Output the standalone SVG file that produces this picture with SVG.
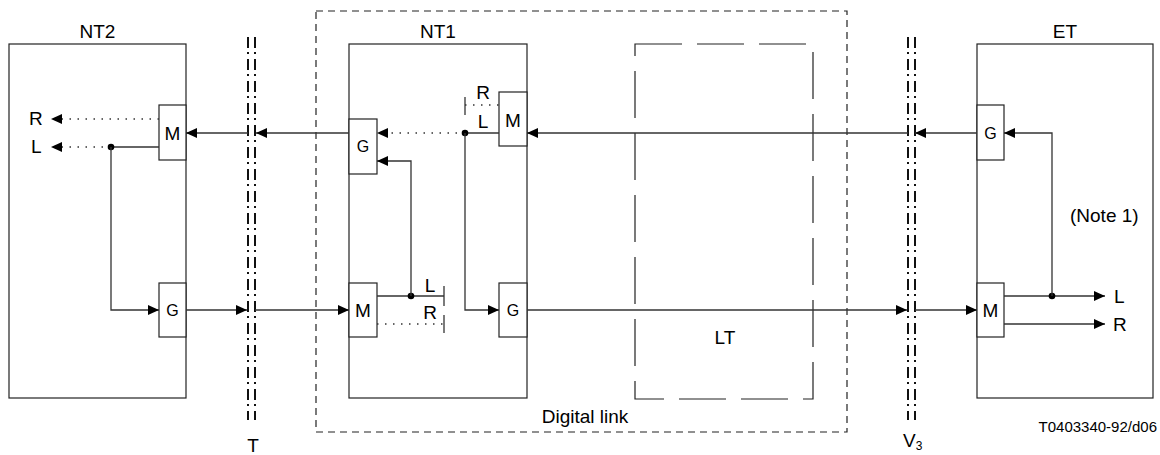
<svg xmlns="http://www.w3.org/2000/svg" width="1160" height="455" viewBox="0 0 1160 455">
<style>
.box{fill:none;stroke:#222;stroke-width:1.2}
.sub{fill:#fff;stroke:#222;stroke-width:1.2}
.ln{fill:none;stroke:#333;stroke-width:1.3}
.dot{fill:none;stroke:#333;stroke-width:1.3;stroke-dasharray:1.5 6.5}
.ifc{fill:none;stroke:#111;stroke-width:2;stroke-dasharray:11 4 2 5}
.dash{fill:none;stroke:#222;stroke-width:1.2;stroke-dasharray:7 5}
.ldash{fill:none;stroke:#222;stroke-width:1.2;stroke-dasharray:47 15}
.t{font-family:"Liberation Sans",Arial,sans-serif;font-size:19px;fill:#000}
.c{text-anchor:middle}
.s{font-size:15px}
.g{font-size:16px}
</style>
<defs>
<marker id="ah" markerWidth="11" markerHeight="10" refX="11" refY="5" orient="auto" markerUnits="userSpaceOnUse"><path d="M0,0 L11,5 L0,10 z" fill="#000"/></marker>
</defs>

<g id="digital-link">
<rect class="dash" x="316" y="11" width="531" height="421"/>
<text class="t c" x="585" y="423">Digital link</text>
</g>

<g id="LT">
<path class="ldash" d="M635,44 H813 V399 H635 Z"/>
<text class="t c" x="725" y="344">LT</text>
</g>

<g id="NT2">
<rect class="box" x="9" y="44" width="177" height="354"/>
<text class="t c" x="97.5" y="38">NT2</text>
<rect class="sub" x="159" y="105" width="27" height="55"/>
<text class="t c" x="172.5" y="139.5">M</text>
<rect class="sub" x="159" y="283" width="27" height="54"/>
<text class="t c g" x="172.5" y="316">G</text>
<text class="t" x="29" y="125">R</text>
<text class="t" x="31" y="153">L</text>
</g>

<g id="NT1">
<rect class="box" x="349" y="44" width="178" height="354"/>
<text class="t c" x="438" y="38">NT1</text>
<rect class="sub" x="349" y="119" width="28" height="55"/>
<text class="t c g" x="363" y="152">G</text>
<rect class="sub" x="499" y="92" width="28" height="54"/>
<text class="t c" x="513" y="127">M</text>
<rect class="sub" x="349" y="283" width="28" height="54"/>
<text class="t c" x="363" y="316.5">M</text>
<rect class="sub" x="499" y="283" width="28" height="54"/>
<text class="t c g" x="513" y="316">G</text>
<text class="t c" x="483" y="99">R</text>
<text class="t c" x="483" y="128">L</text>
<text class="t c" x="430" y="292">L</text>
<text class="t c" x="430" y="319">R</text>
</g>

<g id="ET">
<rect class="box" x="977" y="44" width="176" height="354"/>
<text class="t c" x="1065" y="38">ET</text>
<rect class="sub" x="977" y="105" width="27" height="55"/>
<text class="t c g" x="990.5" y="139">G</text>
<rect class="sub" x="977" y="283" width="27" height="54"/>
<text class="t c" x="990.5" y="316.5">M</text>
<text class="t" x="1070" y="222">(Note 1)</text>
<text class="t" x="1114" y="303">L</text>
<text class="t" x="1113" y="331">R</text>
</g>

<g id="interface-T">
<line class="ifc" x1="248" y1="37" x2="248" y2="420"/>
<line class="ifc" x1="255" y1="37" x2="255" y2="420"/>
<text class="t c" x="253" y="452">T</text>
</g>

<g id="interface-V3">
<line class="ifc" x1="908" y1="37" x2="908" y2="420"/>
<line class="ifc" x1="915" y1="37" x2="915" y2="420"/>
<text class="t" x="903" y="447">V<tspan font-size="12" dy="3">3</tspan></text>
</g>

<g id="connectors">
<line class="dot" x1="159" y1="119" x2="51" y2="119" marker-end="url(#ah)"/>
<line class="ln" x1="159" y1="147" x2="111" y2="147"/>
<line class="dot" x1="111" y1="147" x2="51" y2="147" marker-end="url(#ah)"/>
<circle cx="111" cy="147" r="3.3" fill="#000"/>
<polyline class="ln" points="111,147 111,310 159,310" marker-end="url(#ah)"/>
<line class="ln" x1="248" y1="133" x2="186" y2="133" marker-end="url(#ah)"/>
<line class="ln" x1="349" y1="133" x2="256" y2="133" marker-end="url(#ah)"/>
<line class="ln" x1="186" y1="310" x2="247" y2="310" marker-end="url(#ah)"/>
<line class="ln" x1="255" y1="310" x2="349" y2="310" marker-end="url(#ah)"/>
<line class="ln" x1="499" y1="133" x2="465" y2="133"/>
<line class="dot" x1="465" y1="133" x2="377" y2="133" marker-end="url(#ah)"/>
<circle cx="465" cy="133" r="3.3" fill="#000"/>
<line class="ln" x1="465" y1="97" x2="465" y2="115"/>
<line class="dot" x1="465" y1="105" x2="499" y2="105"/>
<polyline class="ln" points="465,133 465,310 499,310" marker-end="url(#ah)"/>
<line class="ln" x1="377" y1="296" x2="444" y2="296"/>
<line class="ln" x1="444" y1="286" x2="444" y2="306"/>
<line class="dot" x1="377" y1="324" x2="444" y2="324"/>
<line class="ln" x1="444" y1="315" x2="444" y2="333"/>
<circle cx="411" cy="296" r="3.3" fill="#000"/>
<polyline class="ln" points="411,296 411,161 377,161" marker-end="url(#ah)"/>
<line class="ln" x1="977" y1="133" x2="915" y2="133" marker-end="url(#ah)"/>
<line class="ln" x1="908" y1="133" x2="527" y2="133" marker-end="url(#ah)"/>
<line class="ln" x1="527" y1="310" x2="907" y2="310" marker-end="url(#ah)"/>
<line class="ln" x1="915" y1="310" x2="977" y2="310" marker-end="url(#ah)"/>
<line class="ln" x1="1004" y1="296" x2="1105" y2="296" marker-end="url(#ah)"/>
<line class="ln" x1="1004" y1="324" x2="1105" y2="324" marker-end="url(#ah)"/>
<circle cx="1052" cy="296" r="3.3" fill="#000"/>
<polyline class="ln" points="1052,296 1052,133 1004,133" marker-end="url(#ah)"/>
</g>

<text class="t s" x="1157" y="432" text-anchor="end">T0403340-92/d06</text>
</svg>
